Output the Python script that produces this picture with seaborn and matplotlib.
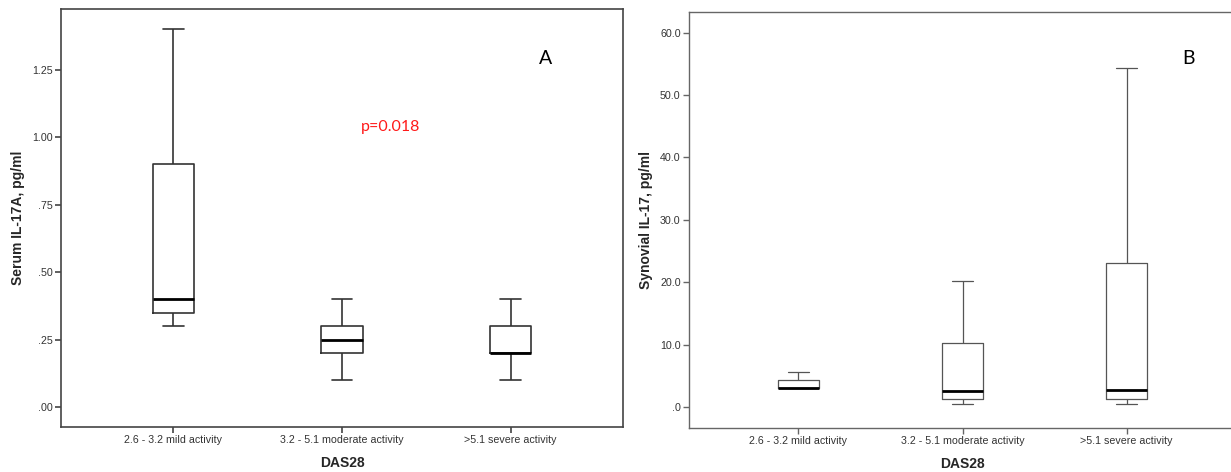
import matplotlib
matplotlib.use("Agg")
import matplotlib.pyplot as plt
import seaborn as sns
import pandas as pd
from matplotlib.ticker import FuncFormatter

sns.set_theme(style="white")
plt.rcParams['font.family'] = ['Liberation Sans', 'DejaVu Sans']

categories = ["2.6 - 3.2 mild activity", "3.2 - 5.1 moderate activity", ">5.1 severe activity"]

# Panel A: serum IL-17A (pg/ml) - values chosen to reproduce the read quartiles/whiskers
serum_mild = [0.30, 0.35, 0.40, 0.90, 1.40]
serum_moderate = [0.10, 0.20, 0.25, 0.30, 0.40]
serum_severe = [0.10, 0.20, 0.20, 0.30, 0.40]

# Panel B: synovial IL-17 (pg/ml)
syn_mild = [3.0, 3.0, 3.0, 4.3, 5.6]
syn_moderate = [0.4, 1.2, 2.6, 10.3, 20.2]
syn_severe = [0.4, 1.2, 2.8, 23.0, 54.3]

serum_ticks = [0.00, 0.25, 0.50, 0.75, 1.00, 1.25]
syn_ticks = [0, 10, 20, 30, 40, 50, 60]


def make_df(groups):
    rows = []
    for cat, vals in zip(categories, groups):
        for v in vals:
            rows.append({"DAS28": cat, "value": v})
    return pd.DataFrame(rows)


dfA = make_df([serum_mild, serum_moderate, serum_severe])
dfB = make_df([syn_mild, syn_moderate, syn_severe])

fig = plt.figure(figsize=(12.31, 4.72), dpi=100)
axA = fig.add_axes([61 / 1231, 1 - 427 / 472, 562 / 1231, 418 / 472])
axB = fig.add_axes([689 / 1231, 1 - 428 / 472, 547 / 1231, 416 / 472])


def style_axes(ax, spine_color, lw):
    for s in ax.spines.values():
        s.set_color(spine_color)
        s.set_linewidth(lw)
    ax.tick_params(axis="both", which="both", direction="out", length=4,
                   width=lw, color=spine_color, labelsize=7.7, labelcolor="#333333",
                   left=True, bottom=True, pad=2)


# Panel A
sns.boxplot(data=dfA, x="DAS28", y="value", order=categories, ax=axA,
            width=0.245, fill=False, whis=1.5, showfliers=False,
            color="#333333", linewidth=1.2,
            medianprops=dict(color="black", linewidth=2.0))
axA.set_xlim(-0.667, 2.667)
axA.set_ylim(-0.074, 1.476)
axA.set_yticks(serum_ticks)
axA.yaxis.set_major_formatter(FuncFormatter(lambda v, p: ("%.2f" % v).lstrip("0") if v < 1 else "%.2f" % v))
axA.set_ylabel("Serum IL-17A, pg/ml", fontsize=10, fontweight="bold", labelpad=5)
axA.set_xlabel("DAS28", fontsize=10, fontweight="bold", labelpad=8)
style_axes(axA, "#444444", 1.2)
fig.text(546 / 1231, 1 - 58 / 472, "A", fontsize=14,
         family=["Lato", "DejaVu Sans"], color="black", ha="center", va="center")
fig.text(391 / 1231, 1 - 127 / 472, "p=0.018", fontsize=11.5,
         family=["Lato", "DejaVu Sans"], color="#ff1a1a", ha="center", va="center")

# Panel B
sns.boxplot(data=dfB, x="DAS28", y="value", order=categories, ax=axB,
            width=0.25, fill=False, whis=1.5, showfliers=False,
            color="#555555", linewidth=0.9,
            medianprops=dict(color="black", linewidth=2.0))
axB.set_xlim(-0.667, 2.667)
axB.set_ylim(-3.37, 63.3)
axB.set_yticks(syn_ticks)
axB.yaxis.set_major_formatter(FuncFormatter(lambda v, p: ".0" if v == 0 else "%.1f" % v))
axB.set_ylabel("Synovial IL-17, pg/ml", fontsize=10, fontweight="bold", labelpad=5)
axB.set_xlabel("DAS28", fontsize=10, fontweight="bold", labelpad=8)
style_axes(axB, "#666666", 1.0)
fig.text(1188 / 1231, 1 - 58 / 472, "B", fontsize=14,
         family=["Lato", "DejaVu Sans"], color="black", ha="center", va="center")

fig.savefig("out.png", dpi=100)
